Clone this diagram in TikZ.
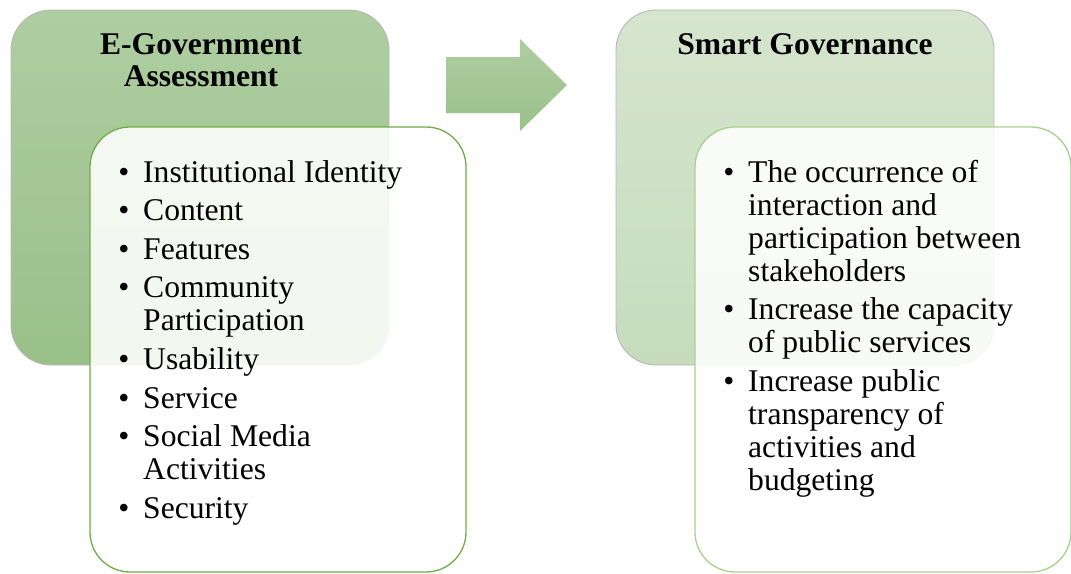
\documentclass[tikz,border=0pt]{standalone}
\usepackage{fontspec}
\setmainfont{Liberation Serif}
\begin{document}
\begin{tikzpicture}[x=1pt,y=-1pt,
  backbox/.style={rectangle, rounded corners=40pt, draw=black!28, line width=0.9pt,
                  minimum width=378pt, minimum height=355pt, inner sep=0pt},
  frontbox/.style={rectangle, rounded corners=40pt, fill=white, fill opacity=0.88,
                   line width=1.3pt, minimum width=376pt, minimum height=445pt, inner sep=0pt},
  title/.style={font=\fontsize{31.6}{32}\selectfont\bfseries, anchor=base, inner sep=0pt},
  itemtext/.style={font=\fontsize{31.6}{33}\selectfont, anchor=base west, inner sep=0pt},
  bulletmark/.style={font=\fontsize{31.6}{33}\selectfont, anchor=base, inner sep=0pt}
]
\definecolor{greenTop}{RGB}{174,206,161}
\definecolor{greenBot}{RGB}{154,192,137}
\definecolor{paleTop}{RGB}{213,229,206}
\definecolor{paleBot}{RGB}{198,220,188}
\definecolor{edgeDark}{RGB}{112,173,71}
\definecolor{edgeLight}{RGB}{169,209,142}

\useasboundingbox (0,0) rectangle (1071,573);

% back panels
\node[backbox, top color=greenTop, bottom color=greenBot] (egovback) at (200,187.5) {};
\node[backbox, top color=paleTop, bottom color=paleBot] (smartback) at (805,187.5) {};

% titles
\node[title] (egovtitle1) at (201,54) {E-Government};
\node[title] (egovtitle2) at (201,86) {Assessment};
\node[title] (smarttitle) at (805,54) {Smart Governance};

% block arrow between the panels
\path[top color=greenTop, bottom color=greenBot]
  (446,57) -- (520,57) -- (520,39) -- (567,85) -- (520,131) -- (520,113) -- (446,113) -- cycle;

% front panels
\node[frontbox, draw=edgeDark] (egovfront) at (278,349.5) {};
\node[frontbox, draw=edgeLight] (smartfront) at (883,349.5) {};

% left list
\node[bulletmark] (lb1) at (124,182) {•};
\node[itemtext] (lt1) at (143,182) {Institutional Identity};
\node[bulletmark] (lb2) at (124,220.6) {•};
\node[itemtext] (lt2) at (143,220.6) {Content};
\node[bulletmark] (lb3) at (124,259.2) {•};
\node[itemtext] (lt3) at (143,259.2) {Features};
\node[bulletmark] (lb4) at (124,297.8) {•};
\node[itemtext] (lt4a) at (143,297.8) {Community};
\node[itemtext] (lt4b) at (143,330.8) {Participation};
\node[bulletmark] (lb5) at (124,369.4) {•};
\node[itemtext] (lt5) at (143,369.4) {Usability};
\node[bulletmark] (lb6) at (124,408) {•};
\node[itemtext] (lt6) at (143,408) {Service};
\node[bulletmark] (lb7) at (124,446.6) {•};
\node[itemtext] (lt7a) at (143,446.6) {Social Media};
\node[itemtext] (lt7b) at (143,479.6) {Activities};
\node[bulletmark] (lb8) at (124,518.2) {•};
\node[itemtext] (lt8) at (143,518.2) {Security};

% right list
\node[bulletmark] (rb1) at (729,182) {•};
\node[itemtext] (rt1a) at (748,182) {The occurrence of};
\node[itemtext] (rt1b) at (748,215) {interaction and};
\node[itemtext] (rt1c) at (748,248) {participation between};
\node[itemtext] (rt1d) at (748,281) {stakeholders};
\node[bulletmark] (rb2) at (729,319.6) {•};
\node[itemtext] (rt2a) at (748,319.6) {Increase the capacity};
\node[itemtext] (rt2b) at (748,352.6) {of public services};
\node[bulletmark] (rb3) at (729,391.2) {•};
\node[itemtext] (rt3a) at (748,391.2) {Increase public};
\node[itemtext] (rt3b) at (748,424.2) {transparency of};
\node[itemtext] (rt3c) at (748,457.2) {activities and};
\node[itemtext] (rt3d) at (748,490.2) {budgeting};
\end{tikzpicture}
\end{document}
